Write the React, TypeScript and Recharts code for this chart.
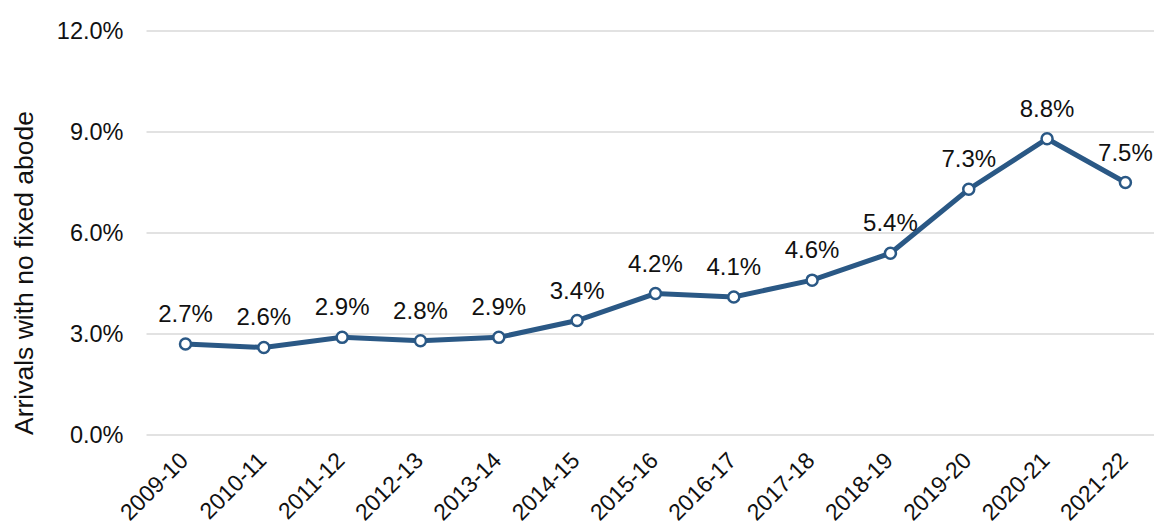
import React from 'react';
import { LineChart, Line, XAxis, YAxis, CartesianGrid } from 'recharts';

const categories = ['2009-10', '2010-11', '2011-12', '2012-13', '2013-14', '2014-15', '2015-16', '2016-17', '2017-18', '2018-19', '2019-20', '2020-21', '2021-22'];
const values = [2.7, 2.6, 2.9, 2.8, 2.9, 3.4, 4.2, 4.1, 4.6, 5.4, 7.3, 8.8, 7.5];
const yTicks = [0, 3, 6, 9, 12];

const data = categories.map((c, i) => ({ name: c, value: values[i] }));

const FONT = '"Liberation Sans", Arial, sans-serif';
const LINE_COLOR = '#2A5885';
const TEXT_COLOR = '#111';

const XTick = (props: any) => {
  const { x, y, payload } = props;
  return (
    <g transform={`translate(${x + 4},${y + 19})`}>
      <text textAnchor="end" transform="rotate(-45)" fontSize={23} fill={TEXT_COLOR} fontFamily={FONT}>
        {payload.value}
      </text>
    </g>
  );
};

const DataLabel = (props: any) => {
  const { x, y, value } = props;
  return (
    <text x={x} y={y - 22} textAnchor="middle" fontSize={24} fill={TEXT_COLOR} fontFamily={FONT}>
      {`${Number(value).toFixed(1)}%`}
    </text>
  );
};

export default function App() {
  return (
    <div style={{ position: 'absolute', left: 0, top: 0, width: 1154, height: 529, overflow: 'hidden', background: '#fff' }}>
      <LineChart width={1170} height={529} data={data} margin={{ top: 31, right: 5.6, bottom: 0, left: 0 }}>
        <CartesianGrid vertical={false} stroke="#D9D9D9" strokeWidth={1.5} />
        <XAxis
          dataKey="name"
          axisLine={false}
          tickLine={false}
          height={94}
          interval={0}
          padding={{ left: 39, right: 39 }}
          tick={<XTick />}
        />
        <YAxis
          domain={[0, 12]}
          ticks={yTicks}
          width={146.5}
          axisLine={false}
          tickLine={false}
          tickSize={21}
          tickMargin={2}
          tickFormatter={(v: number) => `${v.toFixed(1)}%`}
          tick={{ fontSize: 23.5, fill: TEXT_COLOR, fontFamily: FONT }}
          label={() => (
            <text
              x={0}
              y={0}
              transform="translate(33,273) rotate(-90)"
              textAnchor="middle"
              fontSize={26.5}
              fill={TEXT_COLOR}
              fontFamily={FONT}
            >
              Arrivals with no fixed abode
            </text>
          )}
        />
        <Line
          type="linear"
          dataKey="value"
          stroke={LINE_COLOR}
          strokeWidth={5}
          isAnimationActive={false}
          dot={{ r: 5.5, fill: '#fff', stroke: LINE_COLOR, strokeWidth: 2.5 }}
          label={<DataLabel />}
        />
      </LineChart>
    </div>
  );
}
